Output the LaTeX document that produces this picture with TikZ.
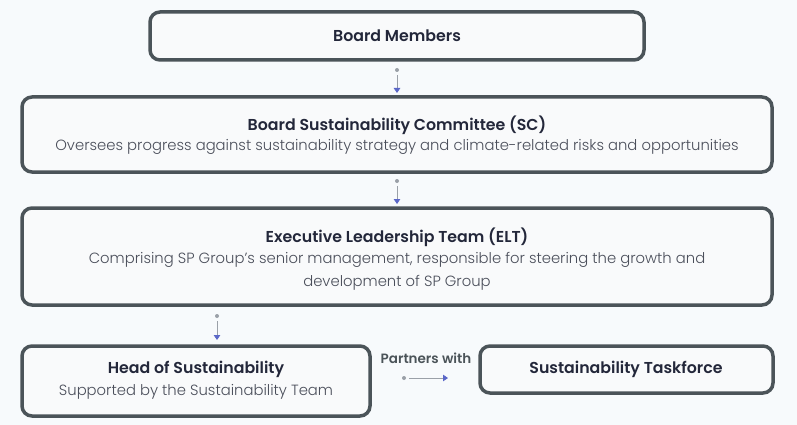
\documentclass[tikz,border=0pt]{standalone}
\usepackage{fontspec}
\setmainfont{Poppins}[UprightFont=* Light, BoldFont=* SemiBold]
\usetikzlibrary{arrows.meta}
\definecolor{bg}{HTML}{F7FAFC}
\definecolor{boxfill}{HTML}{F9FAFB}
\definecolor{boxline}{HTML}{4B5459}
\definecolor{titlecol}{HTML}{23273A}
\definecolor{subcol}{HTML}{4A4E5A}
\definecolor{arrowcol}{HTML}{5A67C8}
\definecolor{dotcol}{HTML}{9AA0A8}
\tikzset{
  orgbox/.style={draw=boxline, line width=3.5pt, fill=boxfill, rounded corners=10pt},
  ttl/.style={font=\fontsize{15.8}{19}\selectfont\bfseries, text=titlecol},
  sub/.style={font=\fontsize{14.8}{23}\selectfont, text=subcol, align=center},
  conn/.style={draw=dotcol, line width=0.8pt, shorten <=3pt, -{Triangle[length=5pt,width=6.5pt,fill=arrowcol,color=arrowcol]}},
  dotstart/.style={circle, fill=dotcol, inner sep=0pt, minimum size=4pt},
}
\begin{document}
\begin{tikzpicture}[x=1pt,y=-1pt]
\useasboundingbox[fill=bg] (0,0) rectangle (797,425);
% boxes
\path[orgbox] (150,12) rectangle (644,60);
\node[ttl] (bm) at (397,36) {Board Members};
\path[orgbox] (22,97) rectangle (772,172);
\node[ttl] (sct) at (397,125) {Board Sustainability Committee (SC)};
\node[sub] (scs) at (397,147) {Oversees progress against sustainability strategy and climate-related risks and opportunities};
\path[orgbox] (22,208) rectangle (772,305);
\node[ttl] (elt) at (397,237) {Executive Leadership Team (ELT)};
\node[sub] (els) at (397,271) {Comprising SP Group's senior management, responsible for steering the growth and\\development of SP Group};
\path[orgbox] (22,346) rectangle (370,416);
\node[ttl] (hst) at (196,369) {Head of Sustainability};
\node[sub] (hss) at (196,392) {Supported by the Sustainability Team};
\path[orgbox] (480,346) rectangle (773,393);
\node[ttl] (tf) at (626,369) {Sustainability Taskforce};
\node[font=\fontsize{13.5}{16}\selectfont\bfseries, text=boxline] (pw) at (426,358) {Partners with};
% connectors
\node[dotstart] (d1) at (397,70) {};
\coordinate (e1) at (397,93);
\draw[conn] (d1) -- (e1);
\node[dotstart] (d2) at (397,181) {};
\coordinate (e2) at (397,204);
\draw[conn] (d2) -- (e2);
\node[dotstart] (d3) at (217,316) {};
\coordinate (e3) at (217,340);
\draw[conn] (d3) -- (e3);
\node[dotstart] (d4) at (404,378) {};
\coordinate (e4) at (448,378);
\draw[conn] (d4) -- (e4);
\end{tikzpicture}
\end{document}
